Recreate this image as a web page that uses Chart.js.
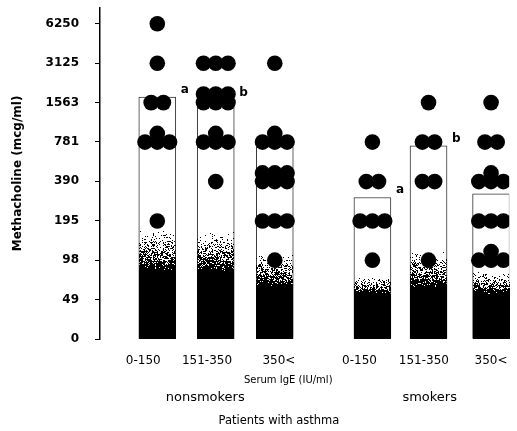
<!DOCTYPE html>
<html>
<head>
<meta charset="utf-8">
<script src="https://cdn.jsdelivr.net/npm/chart.js@4"></script>
<style>
  html, body { margin: 0; padding: 0; background: #fff; }
  canvas { display: block; }
</style>
</head>
<body>
<canvas id="chart" width="517" height="431"></canvas>
<script>
// methacholine doses on the y axis (mcg/ml), one step per doubling
const doseTicks = [0, 49, 98, 195, 390, 781, 1563, 3125, 6250];
const igeLabels = ['0-150', '151-350', '350<', '0-150', '151-350', '350<'];
const groupNames = ['nonsmokers', 'smokers'];
const barValues = [1720, 1650, 720, 295, 730, 315];
const sigLetters = ['a', 'b', '', 'a', 'b', ''];

// one dot per patient
const nsLow = [6250, 3125, 1563, 1563, 781, 781, 781, 781, 195];
const nsMid = [3125, 3125, 3125, 1563, 1563, 1563, 1563, 1563, 1563, 781, 781, 781, 781, 390];
const nsHigh = [3125, 781, 781, 781, 781, 390, 390, 390, 390, 390, 390, 195, 195, 195, 98];
const smLow = [781, 390, 390, 195, 195, 195, 98];
const smMid = [1563, 781, 781, 390, 390, 98];
const smHigh = [1563, 781, 781, 390, 390, 390, 390, 195, 195, 195, 98, 98, 98, 98];
const dotGroups = [nsLow, nsMid, nsHigh, smLow, smMid, smHigh];

// layout, in x axis units
const barX = [0.98, 1.98, 2.99, 4.66, 5.62, 6.69];
const tickX = [0.74, 1.83, 3.06, 4.44, 5.54, 6.69];
const groupX = [1.8, 5.64];
const shadeSolid = [1.74, 1.74, 1.36, 1.16, 1.31, 1.16];
const shadeFade = [2.8, 2.75, 2.2, 1.6, 2.25, 1.75];
const dotStep = 0.21, rowLift = 0.22;

function toLevel(v) {
    return v <= 0 ? 0 : 1 + Math.log2(v / 49);
}

// equal values sit side by side, max 3 in a row, extra rows go a bit higher
function swarm(values, cx) {
    const counts = new Map();
    values.forEach(v => counts.set(v, (counts.get(v) || 0) + 1));
    const pts = [];
    counts.forEach((n, v) => {
        for (let r = 0; r * 3 < n; r++) {
            const k = Math.min(3, n - r * 3);
            for (let i = 0; i < k; i++) {
                pts.push({ x: cx + (i - (k - 1) / 2) * dotStep, y: toLevel(v) + r * rowLift });
            }
        }
    });
    return pts;
}

const bars = barValues.map((v, i) => ({ x: barX[i], y: toLevel(v) }));
let dots = [];
dotGroups.forEach((g, i) => { dots = dots.concat(swarm(g, barX[i])); });

function noise(x, y) {
    const s = Math.sin(x * 12.9898 + y * 78.233) * 43758.5453;
    return s - Math.floor(s);
}

// dark stippled fill at the bottom of each bar
const stipple = {
    id: 'stipple',
    afterDatasetDraw(chart, args) {
        if (args.index !== 0) return;
        const yScale = chart.scales.y;
        const ctx = chart.ctx;
        args.meta.data.forEach((bar, i) => {
            const left = Math.round(bar.x - bar.width / 2);
            const w = Math.round(bar.width);
            const top = Math.round(yScale.getPixelForValue(shadeFade[i]));
            const solid = yScale.getPixelForValue(shadeSolid[i]);
            const h = Math.round(bar.base) - top;
            const off = document.createElement('canvas');
            off.width = w;
            off.height = h;
            const octx = off.getContext('2d');
            const img = octx.createImageData(w, h);
            for (let r = 0; r < h; r++) {
                const p = Math.pow(Math.min(1, r / (solid - top)), 1.3);
                for (let c = 0; c < w; c++) {
                    if (noise(left + c, top + r) < p) {
                        img.data[(r * w + c) * 4 + 3] = 255;
                    }
                }
            }
            octx.putImageData(img, 0, 0);
            ctx.drawImage(off, left, top);
        });
    }
};

const texts = {
    id: 'texts',
    afterDraw(chart) {
        const ctx = chart.ctx;
        const xs = chart.scales.x;
        const bottom = chart.chartArea.bottom;
        ctx.save();
        ctx.fillStyle = '#000';

        ctx.font = 'bold 12px "DejaVu Sans"';
        ctx.textAlign = 'left';
        ctx.textBaseline = 'alphabetic';
        chart.getDatasetMeta(0).data.forEach((bar, i) => {
            if (sigLetters[i]) ctx.fillText(sigLetters[i], bar.x + bar.width / 2 + 5, bar.y - 4);
        });

        ctx.textAlign = 'center';
        ctx.textBaseline = 'middle';
        ctx.font = '10px "DejaVu Sans"';
        ctx.fillText('Serum IgE (IU/ml)', xs.getPixelForValue(3.22), bottom + 41);
        ctx.font = '13px "DejaVu Sans"';
        groupNames.forEach((g, i) => ctx.fillText(g, xs.getPixelForValue(groupX[i]), bottom + 59));
        ctx.font = '11.5px "DejaVu Sans"';
        ctx.fillText('Patients with asthma', xs.getPixelForValue(3.06), bottom + 82);
        ctx.restore();
    }
};

new Chart(document.getElementById('chart'), {
    type: 'bar',
    data: {
        datasets: [
            {
                type: 'bar',
                data: bars,
                order: 1,
                backgroundColor: '#fff',
                borderColor: '#333',
                borderWidth: 1,
                borderSkipped: false,
                barThickness: 37
            },
            {
                type: 'scatter',
                data: dots,
                order: 0,
                pointRadius: 7.8,
                pointHoverRadius: 7.8,
                backgroundColor: '#000',
                borderWidth: 0
            }
        ]
    },
    options: {
        responsive: false,
        animation: false,
        events: [],
        layout: { padding: { top: 5, right: 0, bottom: 0, left: 0 } },
        plugins: { legend: { display: false }, tooltip: { enabled: false } },
        scales: {
            x: {
                type: 'linear',
                min: 0,
                max: 7,
                offset: false,
                grid: { display: false },
                border: { display: false },
                ticks: {
                    autoSkip: false,
                    maxRotation: 0,
                    padding: 7,
                    color: '#000',
                    font: { family: 'DejaVu Sans', size: 12 },
                    callback: (v, i) => igeLabels[i]
                },
                afterBuildTicks: s => { s.ticks = tickX.map(v => ({ value: v })); },
                afterFit: s => { s.height = 92; s.paddingLeft = 0; s.paddingRight = 0; }
            },
            y: {
                type: 'linear',
                min: 0,
                max: 8.4,
                grid: { drawOnChartArea: false, drawTicks: true, tickLength: 5, color: '#000', lineWidth: 1 },
                border: { display: true, color: '#000', width: 1.5 },
                ticks: {
                    padding: 16,
                    color: '#000',
                    font: { family: 'DejaVu Sans', size: 12, weight: 'bold' },
                    callback: (v, i) => doseTicks[i]
                },
                afterBuildTicks: s => { s.ticks = doseTicks.map((d, i) => ({ value: i })); },
                title: {
                    display: true,
                    text: 'Methacholine (mcg/ml)',
                    color: '#000',
                    font: { family: 'DejaVu Sans', size: 12, weight: 'bold' },
                    padding: { top: 11, bottom: 0 }
                },
                afterFit: s => { s.width = 100; s.paddingTop = 0; s.paddingBottom = 0; }
            }
        }
    },
    plugins: [stipple, texts]
});
</script>
</body>
</html>
